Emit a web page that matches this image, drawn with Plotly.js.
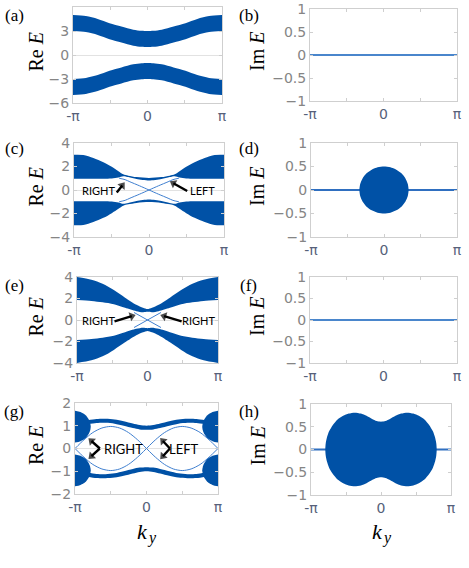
<!DOCTYPE html>
<html>
<head>
<meta charset="utf-8">
<script src="https://cdn.plot.ly/plotly-3.0.1.min.js"></script>
<style>
  html, body { margin: 0; padding: 0; background: #fff; }
  #chart { width: 469px; height: 568px; }
</style>
</head>
<body>
<div id="chart"></div>
<script>
// ---- values (k_y on x, E on y) ----

// (a) two gapped bands
const kA = [-3.1416, -2.6, -2.1, -1.6, -1.1, -0.6, -0.25, 0, 0.25, 0.6, 1.1, 1.6, 2.1, 2.6, 3.1416];
const aUpTop = [5.0, 4.86, 4.5, 3.97, 3.55, 3.17, 3.03, 3.0, 3.03, 3.17, 3.55, 3.97, 4.5, 4.86, 5.0];
const aUpBot = [3.0, 2.86, 2.5, 1.97, 1.55, 1.17, 1.03, 1.0, 1.03, 1.17, 1.55, 1.97, 2.5, 2.86, 3.0];
const aLoTop = [-3.0, -2.86, -2.5, -1.97, -1.55, -1.17, -1.03, -1.0, -1.03, -1.17, -1.55, -1.97, -2.5, -2.86, -3.0];
const aLoBot = [-5.0, -4.86, -4.5, -3.97, -3.55, -3.17, -3.03, -3.0, -3.03, -3.17, -3.55, -3.97, -4.5, -4.86, -5.0];

// (c) bands pinched into thin necks, crossing edge states
const kC = [-3.1416, -2.75, -2.33, -1.91, -1.56, -1.28, -1.08, -0.87, -0.52, 0, 0.52, 0.87, 1.08, 1.28, 1.56, 1.91, 2.33, 2.75, 3.1416];
const cUpTop = [3.0, 2.98, 2.73, 2.37, 1.97, 1.6, 1.33, 1.22, 1.1, 1.03, 1.1, 1.22, 1.33, 1.6, 1.97, 2.37, 2.73, 2.98, 3.0];
const cUpBot = [0.95, 0.95, 0.95, 0.96, 0.98, 1.06, 1.18, 1.1, 0.93, 0.8, 0.93, 1.1, 1.18, 1.06, 0.98, 0.96, 0.95, 0.95, 0.95];
const cLoTop = [-0.95, -0.95, -0.95, -0.96, -0.98, -1.06, -1.18, -1.1, -0.93, -0.8, -0.93, -1.1, -1.18, -1.06, -0.98, -0.96, -0.95, -0.95, -0.95];
const cLoBot = [-3.0, -2.98, -2.73, -2.37, -1.97, -1.6, -1.33, -1.22, -1.1, -1.03, -1.1, -1.22, -1.33, -1.6, -1.97, -2.37, -2.73, -2.98, -3.0];
const kCx = [-1.25, -1.0, -0.8, -0.4, 0, 0.4, 0.8, 1.0, 1.25];
const cEdge1 = [1.0, 0.88, 0.7, 0.36, 0, -0.36, -0.7, -0.88, -1.0];
const cEdge2 = [-1.0, -0.88, -0.7, -0.36, 0, 0.36, 0.7, 0.88, 1.0];

// (d) imaginary part: disc around k=0
const kD = [-1.06, -1.024, -0.918, -0.75, -0.53, -0.274, 0, 0.274, 0.53, 0.75, 0.918, 1.024, 1.06];
const dTop = [0, 0.129, 0.25, 0.354, 0.433, 0.483, 0.5, 0.483, 0.433, 0.354, 0.25, 0.129, 0];
const dBot = [0, -0.129, -0.25, -0.354, -0.433, -0.483, -0.5, -0.483, -0.433, -0.354, -0.25, -0.129, 0];

// (e) bands touching near k=0
const kE = [-3.1416, -2.5, -2.0, -1.5, -1.0, -0.5, -0.2, 0, 0.2, 0.5, 1.0, 1.5, 2.0, 2.5, 3.1416];
const eUpTop = [4.0, 3.75, 3.38, 2.78, 2.08, 1.42, 1.14, 1.02, 1.14, 1.42, 2.08, 2.78, 3.38, 3.75, 4.0];
const eUpBot = [1.87, 1.77, 1.64, 1.46, 1.13, 0.82, 0.72, 0.76, 0.72, 0.82, 1.13, 1.46, 1.64, 1.77, 1.87];
const eLoTop = [-1.87, -1.77, -1.64, -1.46, -1.13, -0.82, -0.72, -0.76, -0.72, -0.82, -1.13, -1.46, -1.64, -1.77, -1.87];
const eLoBot = [-4.0, -3.75, -3.38, -2.78, -2.08, -1.42, -1.14, -1.02, -1.14, -1.42, -2.08, -2.78, -3.38, -3.75, -4.0];
const kEx = [-0.6, 0.6];
const eEdge1 = [0.7, -0.7];
const eEdge2 = [-0.7, 0.7];

// (g) corner blobs, wavy thin bands, lens-shaped edge states
const gBlobKL = [-3.1416, -2.9, -2.66, -2.5, -2.45, -2.5, -2.66, -2.9, -3.1416];
const gBlobKR = [3.1416, 2.9, 2.66, 2.5, 2.45, 2.5, 2.66, 2.9, 3.1416];
const gBlobEU = [1.66, 1.6, 1.45, 1.2, 0.96, 0.72, 0.47, 0.32, 0.26];
const gBlobED = [-1.66, -1.6, -1.45, -1.2, -0.96, -0.72, -0.47, -0.32, -0.26];
const kG = [-2.6, -2.2, -1.8, -1.4, -1.0, -0.6, -0.3, 0, 0.3, 0.6, 1.0, 1.4, 1.8, 2.2, 2.6];
const gUpTop = [1.24, 1.3, 1.31, 1.28, 1.2, 1.1, 1.03, 1.0, 1.03, 1.1, 1.2, 1.28, 1.31, 1.3, 1.24];
const gUpBot = [1.06, 1.12, 1.13, 1.09, 1.0, 0.9, 0.84, 0.82, 0.84, 0.9, 1.0, 1.09, 1.13, 1.12, 1.06];
const gLoTop = [-1.06, -1.12, -1.13, -1.09, -1.0, -0.9, -0.84, -0.82, -0.84, -0.9, -1.0, -1.09, -1.13, -1.12, -1.06];
const gLoBot = [-1.24, -1.3, -1.31, -1.28, -1.2, -1.1, -1.03, -1.0, -1.03, -1.1, -1.2, -1.28, -1.31, -1.3, -1.24];
const kGl = [-3.1416, -2.75, -2.36, -1.96, -1.57, -1.18, -0.79, -0.39, 0];
const kGr = [0, 0.39, 0.79, 1.18, 1.57, 1.96, 2.36, 2.75, 3.1416];
const gArcUp = [0, 0.38, 0.7, 0.9, 0.97, 0.9, 0.7, 0.38, 0];
const gArcDn = [0, -0.38, -0.7, -0.9, -0.97, -0.9, -0.7, -0.38, 0];

// (h) imaginary part: two-lobed blob
const kH = [-2.5, -2.48, -2.43, -2.33, -2.16, -1.95, -1.7, -1.45, -1.18, -0.9, -0.65, -0.4, -0.2, 0,
            0.2, 0.4, 0.65, 0.9, 1.18, 1.45, 1.7, 1.95, 2.16, 2.33, 2.43, 2.48, 2.5];
const hTop = [0, 0.14, 0.26, 0.4, 0.54, 0.66, 0.74, 0.79, 0.81, 0.79, 0.74, 0.67, 0.625, 0.61,
              0.625, 0.67, 0.74, 0.79, 0.81, 0.79, 0.74, 0.66, 0.54, 0.4, 0.26, 0.14, 0];
const hBot = [0, -0.14, -0.26, -0.4, -0.54, -0.66, -0.74, -0.79, -0.81, -0.79, -0.74, -0.67, -0.625, -0.61,
              -0.625, -0.67, -0.74, -0.79, -0.81, -0.79, -0.74, -0.66, -0.54, -0.4, -0.26, -0.14, 0];

// real spectrum line Im E = 0 for (b), (d), (f), (h)
const kFull = [-3.1416, 3.1416];
const imZero = [0, 0];

// axis ticks
const kTickVals = [-3.1416, 0, 3.1416];
const kTickText = ['-π', '0', 'π'];
const kMinorVals = [-1.5708, 1.5708];
const yTicksA = [-6, -3, 0, 3, 6];
const yTicksCE = [-4, -2, 0, 2, 4];
const yTicksG = [-2, -1, 0, 1, 2];
const yTicksIm = [-1, -0.5, 0, 0.5, 1];
const yTextIm = ['\u22121', '\u22120.5', '0', '0.5', '1'];

// arrows: [subplot, tailK, tailE, tipK, tipE]
const arrows = [
  [3, -1.35, -0.22, -1.12, 0.38],
  [3, 1.6, -0.08, 1.02, 0.58],
  [5, -1.47, -0.13, -0.7, 0.36],
  [5, 1.52, -0.13, 0.74, 0.36],
  [7, -2.05, 0.0, -2.42, 0.33],
  [7, -2.05, 0.0, -2.42, -0.34],
  [7, 1.03, 0.0, 0.72, 0.33],
  [7, 1.03, 0.0, 0.72, -0.34]
];
// arrow labels: [subplot, text, k, E, size]
const arrowLabels = [
  [3, 'RIGHT', -2.12, 0, 11],
  [3, 'LEFT', 2.23, 0, 11],
  [5, 'RIGHT', -2.17, 0, 11],
  [5, 'RIGHT', 2.26, 0, 11],
  [7, 'RIGHT', -1.02, 0, 13],
  [7, 'LEFT', 1.63, 0, 13]
];

// ---- drawing ----
const W = 469, H = 568;
const fillColor = '#0051a6';
const edgeColor = '#3f7fd0';

function band(k, bot, top, n) {
  const common = {type: 'scatter', mode: 'lines', xaxis: 'x' + n, yaxis: 'y' + n, hoverinfo: 'skip',
                  showlegend: false};
  return [
    Object.assign({x: k, y: bot, line: {width: 0, color: fillColor, shape: 'spline', smoothing: 0.8}}, common),
    Object.assign({x: k, y: top, fill: 'tonexty', fillcolor: fillColor,
                   line: {width: 0, color: fillColor, shape: 'spline', smoothing: 0.8}}, common)
  ];
}

function blob(k, e, n, smooth) {
  return {type: 'scatter', mode: 'lines', x: k, y: e, xaxis: 'x' + n, yaxis: 'y' + n,
          fill: 'toself', fillcolor: fillColor, hoverinfo: 'skip', showlegend: false,
          line: {width: 0, color: fillColor, shape: 'spline', smoothing: smooth || 0.8}};
}

// closed smooth outline from a top and bottom edge (first point repeated so the spline closes)
function closedBlob(k, top, bot, n) {
  const last = k.length - 1;
  const xs = k.concat(k.slice(1, last).reverse(), [k[0]]);
  const ys = top.concat(bot.slice(1, last).reverse(), [top[0]]);
  return blob(xs, ys, n, 0.6);
}

function edge(k, e, n, width, color) {
  return {type: 'scatter', mode: 'lines', x: k, y: e, xaxis: 'x' + n, yaxis: 'y' + n,
          hoverinfo: 'skip', showlegend: false,
          line: {width: width, color: color, shape: 'spline', smoothing: 0.8}};
}

function arrow([n, ak, ae, k, e]) {
  return {type: 'scatter', mode: 'lines+markers', x: [ak, k], y: [ae, e], xaxis: 'x' + n, yaxis: 'y' + n,
          hoverinfo: 'skip', showlegend: false, cliponaxis: false,
          line: {width: 2.4, color: '#000'},
          marker: {size: [0, 8], symbol: 'triangle-up', angleref: 'previous', color: '#000', line: {width: 0}}};
}

const traces = [].concat(
  band(kA, aUpBot, aUpTop, 1), band(kA, aLoBot, aLoTop, 1),
  [edge(kFull, imZero, 2, 1.8, '#4a86cc')],
  band(kC, cUpBot, cUpTop, 3), band(kC, cLoBot, cLoTop, 3),
  [edge(kCx, cEdge1, 3, 1, edgeColor), edge(kCx, cEdge2, 3, 1, edgeColor)],
  [edge(kFull, imZero, 4, 1.8, '#2f6fc0'), closedBlob(kD, dTop, dBot, 4)],
  band(kE, eUpBot, eUpTop, 5), band(kE, eLoBot, eLoTop, 5),
  [edge(kEx, eEdge1, 5, 1, edgeColor), edge(kEx, eEdge2, 5, 1, edgeColor)],
  [edge(kFull, imZero, 6, 1.8, '#4a86cc')],
  [blob(gBlobKL, gBlobEU, 7), blob(gBlobKR, gBlobEU, 7), blob(gBlobKL, gBlobED, 7), blob(gBlobKR, gBlobED, 7)],
  band(kG, gUpBot, gUpTop, 7), band(kG, gLoBot, gLoTop, 7),
  [edge(kGl, gArcUp, 7, 1, edgeColor), edge(kGl, gArcDn, 7, 1, edgeColor),
   edge(kGr, gArcUp, 7, 1, edgeColor), edge(kGr, gArcDn, 7, 1, edgeColor)],
  [edge(kFull, imZero, 8, 1.8, '#2f6fc0'), closedBlob(kH, hTop, hBot, 8)],
  arrows.map(arrow)
);

// plot frames in pixels: [left, right, top, bottom]
const frames = {
  1: [73, 222, 7, 103],   2: [310, 457, 9, 101],
  3: [74, 224, 143, 237], 4: [311, 457, 143, 237],
  5: [77, 218, 277, 363], 6: [310, 457, 277, 363],
  7: [75, 218, 403, 494], 8: [311, 451, 404, 495]
};
const yRanges = {1: [-6, 6], 2: [-1, 1], 3: [-4, 4], 4: [-1, 1], 5: [-4, 4], 6: [-1, 1], 7: [-2, 2], 8: [-1, 1]};
const yTicks = {1: yTicksA, 2: yTicksIm, 3: yTicksCE, 4: yTicksIm, 5: yTicksCE, 6: yTicksIm, 7: yTicksG, 8: yTicksIm};

const frameColor = '#cfcfcf';
const layout = {
  width: W, height: H,
  margin: {l: 0, r: 0, t: 0, b: 0},
  paper_bgcolor: '#fff', plot_bgcolor: '#fff',
  showlegend: false,
  annotations: [],
  font: {family: 'DejaVu Sans, sans-serif'}
};

for (let n = 1; n <= 8; n++) {
  const [l, r, t, b] = frames[n];
  const suffix = n === 1 ? '' : n;
  layout['xaxis' + suffix] = {
    domain: [l / W, r / W], anchor: 'y' + n, range: [-3.1416, 3.1416],
    tickvals: kTickVals, ticktext: kTickText,
    minor: {tickvals: kMinorVals, ticks: 'inside', ticklen: 3, tickcolor: frameColor, showgrid: false},
    tickfont: {size: 14, color: '#56617a', family: 'DejaVu Sans, sans-serif'},
    ticks: 'inside', ticklen: 3, tickcolor: frameColor,
    showline: true, linecolor: frameColor, linewidth: 1, mirror: 'ticks',
    showgrid: false, zeroline: false, fixedrange: true
  };
  const isIm = n % 2 === 0;
  layout['yaxis' + suffix] = {
    domain: [1 - b / H, 1 - t / H], anchor: 'x' + n, range: yRanges[n],
    tickvals: yTicks[n], ticktext: isIm ? yTextIm : yTicks[n].map(v => v < 0 ? '\u2212' + (-v) : String(v)),
    tickfont: {size: 14, color: '#858585', family: 'DejaVu Sans, sans-serif'},
    ticks: 'inside', ticklen: 3, tickcolor: frameColor,
    showline: true, linecolor: frameColor, linewidth: 1, mirror: 'ticks',
    showgrid: false, zeroline: true, zerolinecolor: '#e2e2e2', zerolinewidth: 1, fixedrange: true
  };
}

const serif = 'Liberation Serif, Times New Roman, serif';
const panelNames = ['(a)', '(b)', '(c)', '(d)', '(e)', '(f)', '(g)', '(h)'];
const panelY = [15, 15, 149, 149, 285, 285, 411, 411];
panelNames.forEach((name, i) => {
  layout.annotations.push({
    xref: 'paper', yref: 'paper', x: (i % 2 === 0 ? 14 : 249) / W, y: 1 - panelY[i] / H,
    text: name, showarrow: false, xanchor: 'center', yanchor: 'middle',
    font: {family: serif, size: 17, color: '#000'}
  });
});

for (let n = 1; n <= 8; n++) {
  const [l, r, t, b] = frames[n];
  const isIm = n % 2 === 0;
  layout.annotations.push({
    xref: 'paper', yref: 'paper', x: (isIm ? 257 : 35.5) / W, y: 1 - ((t + b) / 2 - 3) / H,
    text: isIm ? 'Im <i>E</i>' : 'Re <i>E</i>', textangle: -90, showarrow: false,
    xanchor: 'center', yanchor: 'middle', font: {family: serif, size: 20, color: '#000'}
  });
}

// k_y axis titles: italic k with a smaller, lowered y
[0, 235].forEach(dx => {
  layout.annotations.push({
    xref: 'paper', yref: 'paper', x: (142.5 + dx) / W, y: 1 - 531 / H,
    text: '<i>k</i>', showarrow: false, xanchor: 'center', yanchor: 'middle',
    font: {family: serif, size: 22, color: '#000'}
  });
  layout.annotations.push({
    xref: 'paper', yref: 'paper', x: (152 + dx) / W, y: 1 - 538 / H,
    text: '<i>y</i>', showarrow: false, xanchor: 'center', yanchor: 'middle',
    font: {family: serif, size: 16, color: '#000'}
  });
});

arrowLabels.forEach(([n, txt, k, e, size]) => {
  layout.annotations.push({
    xref: 'x' + n, yref: 'y' + n, x: k, y: e, text: txt, showarrow: false,
    xanchor: 'center', yanchor: 'middle', font: {family: 'Lato, Open Sans, sans-serif', size: size, color: '#000'}
  });
});

Plotly.newPlot('chart', traces, layout, {displayModeBar: false, staticPlot: true});
</script>
</body>
</html>
